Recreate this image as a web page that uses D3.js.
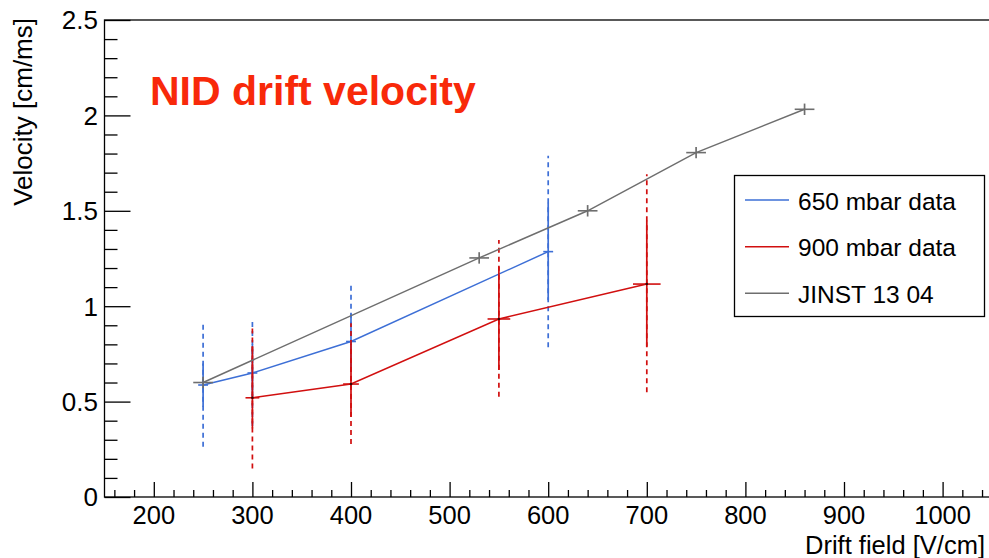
<!DOCTYPE html>
<html>
<head>
  <meta charset="utf-8">
  <title>NID drift velocity</title>
  <script src="https://cdn.jsdelivr.net/npm/d3@7"></script>
  <style>
    body { margin: 0; background: #fff; }
    text { font-family: "Liberation Sans", Arial, Helvetica, sans-serif; }
  </style>
</head>
<body>
<script>
// data
var field650 = [250, 300, 400, 600];
var vel650 = [0.587, 0.65, 0.815, 1.286];
var xerr650 = [5, 5, 5, 5];
var statLo650 = [0.473, 0.53, 0.67, 1.032];
var statHi650 = [0.70, 0.80, 0.96, 1.542];
var totLo650 = [0.264, 0.372, 0.515, 0.785];
var totHi650 = [0.913, 0.928, 1.116, 1.789];

var field900 = [300, 400, 550, 700];
var vel900 = [0.52, 0.592, 0.933, 1.116];
var xerr900 = [7, 8, 11.5, 14];
var statLo900 = [0.36, 0.42, 0.666, 0.788];
var statHi900 = [0.79, 0.80, 1.207, 1.448];
var totLo900 = [0.15, 0.278, 0.526, 0.549];
var totHi900 = [0.886, 0.91, 1.347, 1.691];

var fieldJinst = [250, 530, 640, 750, 860];
var velJinst = [0.60, 1.253, 1.50, 1.805, 2.032];
var xerrJinst = [10, 10, 10, 10, 10];
var yerrJinst = [0.03, 0.03, 0.03, 0.03, 0.03];

var legendLabels = ["650 mbar data", "900 mbar data", "JINST 13 04"];
var xTicks = [200, 300, 400, 500, 600, 700, 800, 900, 1000];
var yTicks = [0, 0.5, 1, 1.5, 2, 2.5];

var w = 989, h = 558;
var blue = "#3d6fd6", red = "#d10f0f", gray = "#6e6e6e";

var x = d3.scaleLinear().domain([150, 1050]).range([104.5, 991.9]);
var y = d3.scaleLinear().domain([0, 2.5]).range([497, 20]);

var svg = d3.select("body").append("svg")
  .attr("width", w)
  .attr("height", h);

// frame
svg.append("rect")
  .attr("x", x(150)).attr("y", y(2.5))
  .attr("width", x(1050) - x(150)).attr("height", y(0) - y(2.5))
  .attr("fill", "none").attr("stroke", "#000").attr("stroke-width", 1.3);

// axes, ticks pointing inward like ROOT
var xMinor = d3.range(160, 1050, 20).filter(function(v) { return v % 100 != 0; });
var xAxis = svg.append("g").attr("transform", "translate(0," + y(0) + ")");
xAxis.call(d3.axisTop(x).tickValues(xTicks).tickSize(15).tickFormat(""));
xAxis.append("g").call(d3.axisTop(x).tickValues(xMinor).tickSize(7).tickFormat(""));
xAxis.selectAll(".domain").remove();
xAxis.selectAll("line").attr("stroke", "#000").attr("stroke-width", 1.3);

var yMinor = d3.range(0.1, 2.5, 0.1).filter(function(v) { return Math.abs(v * 2 - Math.round(v * 2)) > 0.01; });
var yAxis = svg.append("g").attr("transform", "translate(" + x(150) + ",0)");
yAxis.call(d3.axisRight(y).tickValues(yTicks).tickSize(26).tickFormat(""));
yAxis.append("g").call(d3.axisRight(y).tickValues(yMinor).tickSize(13).tickFormat(""));
yAxis.selectAll(".domain").remove();
yAxis.selectAll("line").attr("stroke", "#000").attr("stroke-width", 1.3);

// tick labels
svg.append("g").selectAll("text").data(xTicks).enter().append("text")
  .attr("x", function(d) { return x(d); })
  .attr("y", 524)
  .attr("text-anchor", "middle")
  .attr("font-size", 25.5)
  .text(function(d) { return d; });

svg.append("g").selectAll("text").data(yTicks).enter().append("text")
  .attr("x", 98)
  .attr("y", function(d) { return y(d); })
  .attr("dy", "0.36em")
  .attr("text-anchor", "end")
  .attr("font-size", 26)
  .text(function(d) { return d; });

// axis titles
svg.append("text")
  .attr("x", 985).attr("y", 554)
  .attr("text-anchor", "end")
  .attr("font-size", 25.5)
  .text("Drift field [V/cm]");

svg.append("text")
  .attr("transform", "translate(32,18) rotate(-90)")
  .attr("text-anchor", "end")
  .attr("font-size", 26)
  .text("Velocity [cm/ms]");

// title
svg.append("text")
  .attr("x", 150).attr("y", 105)
  .attr("font-size", 41)
  .attr("font-weight", "bold")
  .attr("fill", "#f8290a")
  .text("NID drift velocity");

function drawSeries(fx, vy, xe, sLo, sHi, tLo, tHi, color) {
  var g = svg.append("g");
  var idx = d3.range(fx.length);
  if (tLo) {
    g.selectAll(".tot").data(idx).enter().append("line")
      .attr("x1", function(i) { return x(fx[i]); })
      .attr("x2", function(i) { return x(fx[i]); })
      .attr("y1", function(i) { return y(tLo[i]); })
      .attr("y2", function(i) { return y(tHi[i]); })
      .attr("stroke", color).attr("stroke-width", 1.7)
      .attr("stroke-dasharray", "5,4");
  }
  g.selectAll(".stat").data(idx).enter().append("line")
    .attr("x1", function(i) { return x(fx[i]); })
    .attr("x2", function(i) { return x(fx[i]); })
    .attr("y1", function(i) { return y(sLo[i]); })
    .attr("y2", function(i) { return y(sHi[i]); })
    .attr("stroke", color).attr("stroke-width", 1.7);
  g.selectAll(".xe").data(idx).enter().append("line")
    .attr("x1", function(i) { return x(fx[i] - xe[i]); })
    .attr("x2", function(i) { return x(fx[i] + xe[i]); })
    .attr("y1", function(i) { return y(vy[i]); })
    .attr("y2", function(i) { return y(vy[i]); })
    .attr("stroke", color).attr("stroke-width", 1.6);
  g.append("path")
    .datum(idx)
    .attr("fill", "none")
    .attr("stroke", color).attr("stroke-width", 1.5)
    .attr("d", d3.line().x(function(i) { return x(fx[i]); }).y(function(i) { return y(vy[i]); }));
  return g;
}

drawSeries(field650, vel650, xerr650, statLo650, statHi650, totLo650, totHi650, blue);
var g900 = drawSeries(field900, vel900, xerr900, statLo900, statHi900, totLo900, totHi900, red);
g900.selectAll(".dot").data(d3.range(field900.length)).enter().append("circle")
  .attr("cx", function(i) { return x(field900[i]); })
  .attr("cy", function(i) { return y(vel900[i]); })
  .attr("r", 1.3).attr("fill", "#3a0000");

var jLo = velJinst.map(function(v, i) { return v - yerrJinst[i]; });
var jHi = velJinst.map(function(v, i) { return v + yerrJinst[i]; });
drawSeries(fieldJinst, velJinst, xerrJinst, jLo, jHi, null, null, gray);

// legend
var leg = svg.append("g");
leg.append("rect")
  .attr("x", 734.5).attr("y", 175.5)
  .attr("width", 250).attr("height", 141)
  .attr("fill", "#fff").attr("stroke", "#000").attr("stroke-width", 1.3);
var legColors = [blue, red, gray];
var legY = [200, 246.7, 293.3];
legendLabels.forEach(function(lab, i) {
  leg.append("line")
    .attr("x1", 745).attr("x2", 789)
    .attr("y1", legY[i]).attr("y2", legY[i])
    .attr("stroke", legColors[i]).attr("stroke-width", 1.5);
  leg.append("text")
    .attr("x", 798).attr("y", legY[i] + 9.5)
    .attr("font-size", 24.5)
    .text(lab);
});
</script>
</body>
</html>
